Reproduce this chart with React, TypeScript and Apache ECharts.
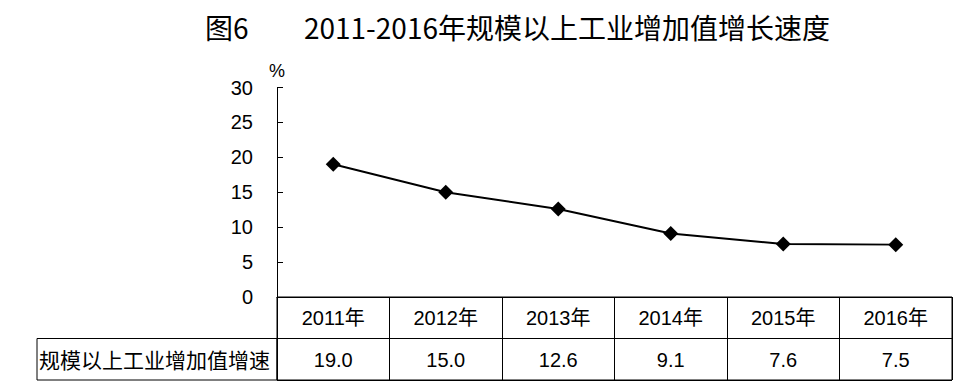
import React, { useEffect, useRef } from "react";
import * as echarts from "echarts";

const categories = ["2011年", "2012年", "2013年", "2014年", "2015年", "2016年"];
const growth = [19.0, 15.0, 12.6, 9.1, 7.6, 7.5];
const valueLabels = ["19.0", "15.0", "12.6", "9.1", "7.6", "7.5"];
const rowHeader = "规模以上工业增加值增速";
const titlePrefix = "图6";
const titleMain = "2011-2016年规模以上工业增加值增长速度";
const yTicks = { min: 0, max: 30, interval: 5 };

const FONT = "'Liberation Sans','Noto Sans CJK SC',sans-serif";
const CJK = "'Noto Sans CJK SC',sans-serif";

export default function App() {
  const ref = useRef<HTMLDivElement>(null);
  useEffect(() => {
    if (!ref.current) return;
    const chart = echarts.init(ref.current, null, { renderer: "svg" });
    const gridLeft = 277;
    const gridRight = 974 - 952;
    chart.setOption({
      animation: false,
      backgroundColor: "#fff",
      textStyle: { fontFamily: FONT, color: "#000" },
      grid: [
        { left: gridLeft, right: gridRight, top: 87.5, height: 209.5 },
        {
          left: gridLeft,
          right: gridRight,
          top: 297,
          height: 83,
          show: true,
          borderColor: "#000",
          borderWidth: 1,
          backgroundColor: "transparent",
        },
      ],
      xAxis: [
        {
          type: "category",
          gridIndex: 0,
          data: categories,
          boundaryGap: true,
          axisLine: { show: true, lineStyle: { color: "#000", width: 1 } },
          axisTick: { show: false },
          axisLabel: {
            margin: 21,
            verticalAlign: "middle",
            color: "#000",
            fontSize: 20,
            fontFamily: FONT,
          },
          splitLine: { show: false },
        },
        {
          type: "category",
          gridIndex: 0,
          position: "bottom",
          offset: 41.5,
          data: valueLabels,
          boundaryGap: true,
          axisLine: { show: false },
          axisTick: { show: false },
          axisLabel: {
            margin: 21,
            verticalAlign: "middle",
            color: "#000",
            fontSize: 20,
            fontFamily: FONT,
          },
          splitLine: { show: false },
        },
        {
          type: "category",
          gridIndex: 1,
          data: categories,
          boundaryGap: true,
          axisLine: { show: false },
          axisTick: { show: false },
          axisLabel: { show: false },
          splitLine: { show: true, lineStyle: { color: "#000", width: 1 } },
        },
      ],
      yAxis: [
        {
          type: "value",
          gridIndex: 0,
          min: yTicks.min,
          max: yTicks.max,
          interval: yTicks.interval,
          name: "%",
          nameLocation: "end",
          nameGap: 8,
          nameTextStyle: { color: "#000", fontSize: 18, fontFamily: FONT },
          axisLine: { show: true, lineStyle: { color: "#000", width: 1 } },
          axisTick: { show: true, inside: true, length: 6, lineStyle: { color: "#000" } },
          axisLabel: { margin: 24, color: "#000", fontSize: 20, fontFamily: FONT },
          splitLine: { show: false },
        },
        {
          type: "category",
          gridIndex: 1,
          inverse: true,
          data: ["", rowHeader],
          axisLine: { show: false },
          axisTick: { show: false },
          axisLabel: {
            margin: 7,
            color: "#000",
            fontSize: 21,
            fontFamily: CJK,
          },
          splitLine: { show: true, lineStyle: { color: "#000", width: 1 } },
        },
      ],
      series: [
        {
          type: "line",
          xAxisIndex: 0,
          yAxisIndex: 0,
          data: growth,
          symbol: "diamond",
          symbolSize: 15,
          lineStyle: { color: "#000", width: 2 },
          itemStyle: { color: "#000" },
        },
      ],
      graphic: [
        {
          type: "rect",
          shape: { x: 37, y: 338.5, width: gridLeft - 37, height: 41.5 },
          style: { fill: "none", stroke: "#000", lineWidth: 1 },
          silent: true,
        },
        {
          type: "text",
          x: 205,
          y: 27,
          style: {
            text: titlePrefix,
            fontSize: 28,
            fontFamily: CJK,
            fill: "#000",
            align: "left",
            verticalAlign: "middle",
          },
        },
        {
          type: "text",
          x: 830,
          y: 27,
          style: {
            text: titleMain,
            fontSize: 28,
            fontFamily: CJK,
            fill: "#000",
            align: "right",
            verticalAlign: "middle",
          },
        },
      ],
    });
    return () => chart.dispose();
  }, []);
  return (
    <div
      ref={ref}
      style={{ position: "fixed", left: 0, top: 0, width: 974, height: 390, background: "#fff" }}
    />
  );
}
